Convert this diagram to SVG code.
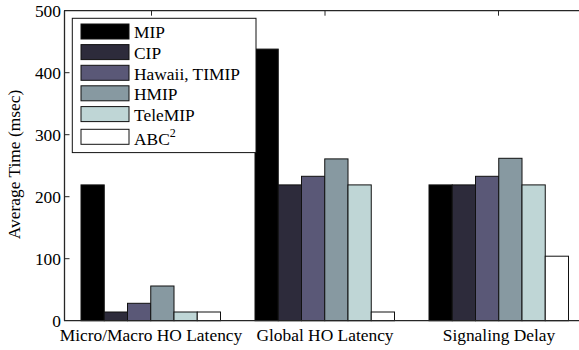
<svg xmlns="http://www.w3.org/2000/svg" width="579" height="350" viewBox="0 0 579 350">
  <style>
    text { font-family: "Liberation Serif", "Times New Roman", serif; font-size: 17.4px; fill: #000; }
    .axis { stroke: #262626; stroke-width: 1.3; fill: none; }
    .tick { stroke: #262626; stroke-width: 1; }
    .bar { stroke: #111; stroke-width: 1; }
    .s1 { fill: #000000; }
    .s2 { fill: #2d2b3b; }
    .s3 { fill: #5a5877; }
    .s4 { fill: #8799a1; }
    .s5 { fill: #bfd6d6; }
    .s6 { fill: #ffffff; }
    .ylab { text-anchor: end; }
    .xlab { text-anchor: middle; }
  </style>

  <rect x="0" y="0" width="579" height="350" fill="#fff"/>

  <!-- bars: y = 320.7 - 0.62 * value, bar width 23.25 -->
  <g id="group-micro-macro">
    <rect class="bar s1" x="81" y="184.9" width="23.25" height="135.8"/>
    <rect class="bar s2" x="104.25" y="312.0" width="23.25" height="8.7"/>
    <rect class="bar s3" x="127.5" y="303.3" width="23.25" height="17.4"/>
    <rect class="bar s4" x="150.75" y="286.0" width="23.25" height="34.7"/>
    <rect class="bar s5" x="174" y="312.0" width="23.25" height="8.7"/>
    <rect class="bar s6" x="197.25" y="312.0" width="23.25" height="8.7"/>
  </g>
  <g id="group-global">
    <rect class="bar s1" x="255" y="49.1" width="23.25" height="271.6"/>
    <rect class="bar s2" x="278.25" y="184.9" width="23.25" height="135.8"/>
    <rect class="bar s3" x="301.5" y="176.3" width="23.25" height="144.4"/>
    <rect class="bar s4" x="324.75" y="158.9" width="23.25" height="161.8"/>
    <rect class="bar s5" x="348" y="184.9" width="23.25" height="135.8"/>
    <rect class="bar s6" x="371.25" y="312.0" width="23.25" height="8.7"/>
  </g>
  <g id="group-signaling">
    <rect class="bar s1" x="429" y="184.9" width="23.25" height="135.8"/>
    <rect class="bar s2" x="452.25" y="184.9" width="23.25" height="135.8"/>
    <rect class="bar s3" x="475.5" y="176.3" width="23.25" height="144.4"/>
    <rect class="bar s4" x="498.75" y="158.3" width="23.25" height="162.4"/>
    <rect class="bar s5" x="522" y="184.9" width="23.25" height="135.8"/>
    <rect class="bar s6" x="545.25" y="256.2" width="23.25" height="64.5"/>
  </g>

  <!-- axes frame and ticks -->
  <g id="axes">
    <line class="axis" x1="64.5" y1="10.7" x2="64.5" y2="320.7"/>
    <line class="axis" x1="64" y1="10.7" x2="579" y2="10.7"/>
    <line class="axis" x1="64" y1="320.7" x2="579" y2="320.7"/>
    <line class="tick" x1="64.5" y1="258.7" x2="69.5" y2="258.7"/>
    <line class="tick" x1="64.5" y1="196.7" x2="69.5" y2="196.7"/>
    <line class="tick" x1="64.5" y1="134.7" x2="69.5" y2="134.7"/>
    <line class="tick" x1="64.5" y1="72.7" x2="69.5" y2="72.7"/>
    <line class="tick" x1="151.5" y1="10.7" x2="151.5" y2="15.7"/>
    <line class="tick" x1="325" y1="10.7" x2="325" y2="15.7"/>
    <line class="tick" x1="498.5" y1="10.7" x2="498.5" y2="15.7"/>

    <text class="ylab" x="61" y="327.2">0</text>
    <text class="ylab" x="61" y="265.2">100</text>
    <text class="ylab" x="61" y="203.2">200</text>
    <text class="ylab" x="61" y="141.2">300</text>
    <text class="ylab" x="61" y="79.2">400</text>
    <text class="ylab" x="61" y="17.2">500</text>

    <text class="xlab" x="151" y="341">Micro/Macro HO Latency</text>
    <text class="xlab" x="325" y="341">Global HO Latency</text>
    <text class="xlab" x="499" y="341">Signaling Delay</text>

    <text class="xlab" transform="translate(20,164.5) rotate(-90)">Average Time (msec)</text>
  </g>

  <!-- legend -->
  <g id="legend">
    <rect x="72.3" y="18.3" width="183.7" height="134.3" fill="#fff" stroke="#111" stroke-width="1"/>
    <rect class="bar s1" x="81" y="24" width="48" height="15"/>
    <rect class="bar s2" x="81" y="44.6" width="48" height="15"/>
    <rect class="bar s3" x="81" y="65.3" width="48" height="15"/>
    <rect class="bar s4" x="81" y="85.8" width="48" height="15"/>
    <rect class="bar s5" x="81" y="106.6" width="48" height="15"/>
    <rect class="bar s6" x="81" y="129.3" width="48" height="15"/>
    <text x="134" y="38.3">MIP</text>
    <text x="134" y="58.9">CIP</text>
    <text x="134" y="79.6">Hawaii, TIMIP</text>
    <text x="134" y="100.1">HMIP</text>
    <text x="134" y="120.9">TeleMIP</text>
    <text x="134" y="145">ABC<tspan font-size="12" dy="-8.3">2</tspan></text>
  </g>
</svg>
